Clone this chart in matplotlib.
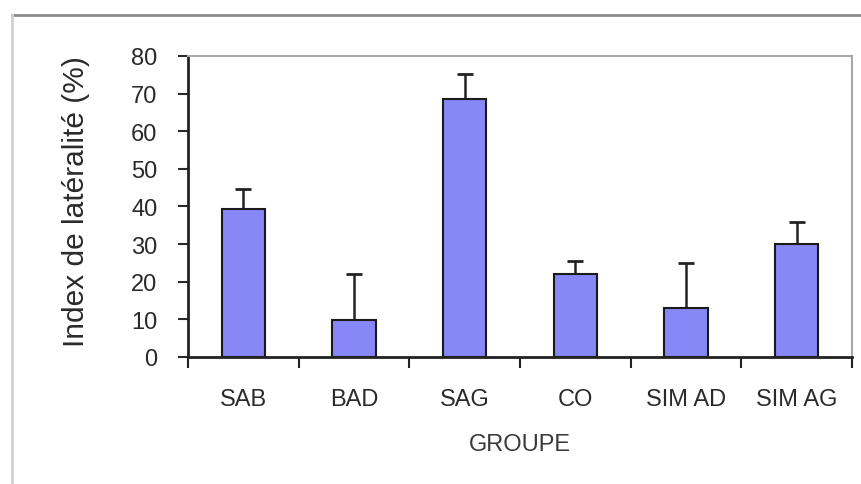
import matplotlib.pyplot as plt
from matplotlib.lines import Line2D

groupes = ['SAB', 'BAD', 'SAG', 'CO', 'SIM AD', 'SIM AG']
index_lat = [39.4, 9.8, 68.6, 22.0, 13.0, 30.0]
erreur = [5.3, 12.2, 6.7, 3.5, 12.0, 5.9]

plt.rcParams['font.family'] = ['Liberation Sans', 'DejaVu Sans']

fig = plt.figure(figsize=(8.62, 4.85), dpi=100)
ax = fig.add_axes([0.2181, 0.2619, 0.7703, 0.6206])

x = range(len(groupes))
ax.bar(x, index_lat, width=0.39, color='#8787f7', edgecolor='#1a1a1a', linewidth=1.5,
       zorder=2)
# barres d'erreur vers le haut seulement
ax.errorbar(x, index_lat, yerr=[[0] * len(erreur), erreur], fmt='none',
            ecolor='#222222', elinewidth=1.8, capsize=6, capthick=2, zorder=1)

ax.set_xlim(-0.5, len(groupes) - 0.5)
ax.set_ylim(0, 80)
ax.set_yticks(range(0, 81, 10))
ax.set_xticks(list(x))
ax.set_xticklabels(groupes)
ax.set_xticks([i - 0.5 for i in range(len(groupes) + 1)], minor=True)
ax.tick_params(axis='x', which='major', length=0, pad=22, labelsize=17,
               colors='#2a2a2a')
ax.tick_params(axis='x', which='minor', length=8, width=1.5, direction='out',
               color='#222222')
ax.tick_params(axis='y', length=7, width=1.5, direction='out', labelsize=17,
               pad=15, colors='#2a2a2a')

for side in ['left', 'bottom']:
    ax.spines[side].set_linewidth(2)
    ax.spines[side].set_color('#222222')
for side in ['top', 'right']:
    ax.spines[side].set_linewidth(1.5)
    ax.spines[side].set_color('#a8a8a8')

ax.set_ylabel('Index de latéralité (%)', fontsize=21.5, color='#2a2a2a')
ax.yaxis.set_label_coords(-0.148, 0.52)
ax.set_xlabel('GROUPE', fontsize=17, color='#3a3a3a')
ax.xaxis.set_label_coords(0.5, -0.252)

# cadre extérieur du graphique
fig.add_artist(Line2D([12 / 862, 1], [1 - 16 / 485] * 2, color='#8c8c8c', lw=2))
fig.add_artist(Line2D([12 / 862] * 2, [0, 1 - 16 / 485], color='#d0d0d0', lw=2))

fig.savefig('out.png', dpi=100)
